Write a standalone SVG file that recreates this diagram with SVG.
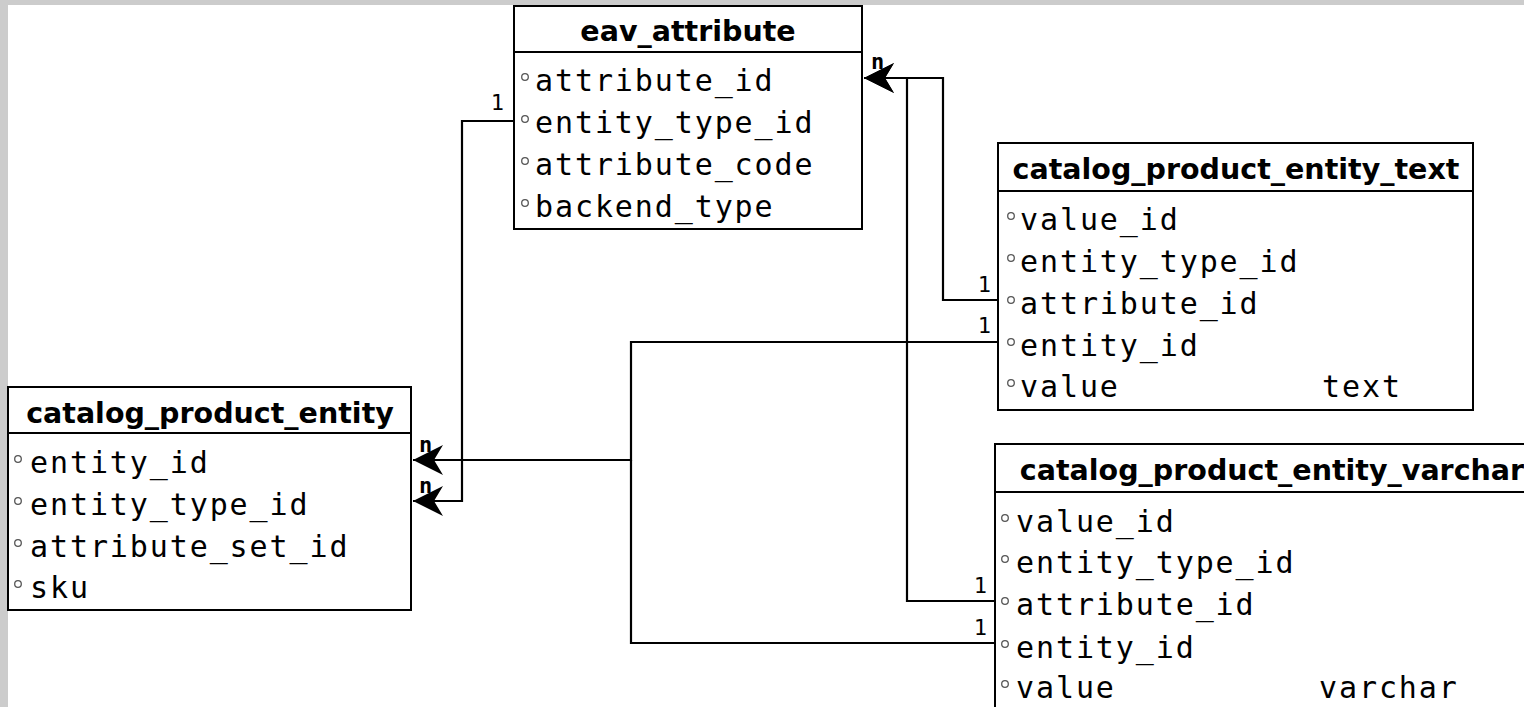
<svg xmlns="http://www.w3.org/2000/svg" width="1524" height="707" viewBox="0 0 1524 707">
<style>
.box{fill:#fff;stroke:#000;stroke-width:2}
.sep{stroke:#000;stroke-width:2}
.hd{font-family:"DejaVu Sans",sans-serif;font-weight:bold;font-size:28.5px;fill:#000;text-anchor:middle}
.row{font-family:"DejaVu Sans Mono",monospace;font-size:30px;letter-spacing:1.9px;fill:#000}
.dot{fill:#fff;stroke:#555;stroke-width:1.3}
.lbl{font-family:"DejaVu Sans Mono",monospace;font-size:22px;fill:#000}
.lblb{font-family:"DejaVu Sans Mono",monospace;font-size:22px;font-weight:bold;fill:#000}
.con{fill:none;stroke:#000;stroke-width:2.2}
</style>
<defs>
<marker id="arr" markerUnits="userSpaceOnUse" viewBox="-34 -18 36 36" markerWidth="36" markerHeight="36" refX="0" refY="0" orient="auto" overflow="visible">
<path d="M0,0 L-30,-15 L-21,0 L-30,15 Z" fill="#000"/>
</marker>
</defs>
<rect x="0" y="0" width="1524" height="707" fill="#cccccc"/>
<rect x="8" y="5" width="1516" height="702" fill="#fff"/>

<g id="connectors">
<path class="con" d="M514,121 H462 V501 H413" marker-end="url(#arr)"/>
<path class="con" d="M998,342 H631 V460 H413" marker-end="url(#arr)"/>
<path class="con" d="M995,643 H631 V460"/>
<path class="con" d="M998,300 H943 V78 H864" marker-end="url(#arr)"/>
<path class="con" d="M995,601 H907 V78 H864" marker-end="url(#arr)"/>
</g>

<g id="labels">
<text class="lbl" x="504" y="110" text-anchor="end">1</text>
<text class="lbl" x="991" y="292" text-anchor="end">1</text>
<text class="lbl" x="991" y="333" text-anchor="end">1</text>
<text class="lbl" x="987" y="593" text-anchor="end">1</text>
<text class="lbl" x="987" y="635" text-anchor="end">1</text>
</g>

<g id="eav_attribute">
<rect class="box" x="514" y="6" width="348" height="223"/>
<line class="sep" x1="514" y1="52" x2="862" y2="52"/>
<text class="hd" x="688" y="41">eav_attribute</text>
<circle class="dot" cx="525" cy="77" r="3.3"/><text class="row" x="535" y="91">attribute_id</text>
<circle class="dot" cx="525" cy="119" r="3.3"/><text class="row" x="535" y="133">entity_type_id</text>
<circle class="dot" cx="525" cy="161" r="3.3"/><text class="row" x="535" y="175">attribute_code</text>
<circle class="dot" cx="525" cy="203" r="3.3"/><text class="row" x="535" y="217">backend_type</text>
</g>

<g id="catalog_product_entity_text">
<rect class="box" x="998" y="143" width="475" height="267"/>
<line class="sep" x1="998" y1="191" x2="1473" y2="191"/>
<text class="hd" x="1236" y="179">catalog_product_entity_text</text>
<circle class="dot" cx="1011" cy="216" r="3.3"/><text class="row" x="1020" y="230">value_id</text>
<circle class="dot" cx="1011" cy="258" r="3.3"/><text class="row" x="1020" y="272">entity_type_id</text>
<circle class="dot" cx="1011" cy="300" r="3.3"/><text class="row" x="1020" y="314">attribute_id</text>
<circle class="dot" cx="1011" cy="342" r="3.3"/><text class="row" x="1020" y="356">entity_id</text>
<circle class="dot" cx="1011" cy="383" r="3.3"/><text class="row" x="1020" y="397">value</text>
<text class="row" x="1322" y="397">text</text>
</g>

<g id="catalog_product_entity_varchar">
<rect class="box" x="995" y="444" width="550" height="290"/>
<line class="sep" x1="995" y1="492" x2="1545" y2="492"/>
<text class="hd" x="1272" y="480">catalog_product_entity_varchar</text>
<circle class="dot" cx="1005" cy="518" r="3.3"/><text class="row" x="1016" y="532">value_id</text>
<circle class="dot" cx="1005" cy="559" r="3.3"/><text class="row" x="1016" y="573">entity_type_id</text>
<circle class="dot" cx="1005" cy="601" r="3.3"/><text class="row" x="1016" y="615">attribute_id</text>
<circle class="dot" cx="1005" cy="644" r="3.3"/><text class="row" x="1016" y="658">entity_id</text>
<circle class="dot" cx="1005" cy="684" r="3.3"/><text class="row" x="1016" y="698">value</text>
<text class="row" x="1319" y="698">varchar</text>
</g>

<g id="catalog_product_entity">
<rect class="box" x="8" y="387" width="403" height="223"/>
<line class="sep" x1="8" y1="433" x2="411" y2="433"/>
<text class="hd" x="210" y="423">catalog_product_entity</text>
<circle class="dot" cx="18" cy="459" r="3.3"/><text class="row" x="30" y="473">entity_id</text>
<circle class="dot" cx="18" cy="501" r="3.3"/><text class="row" x="30" y="515">entity_type_id</text>
<circle class="dot" cx="18" cy="543" r="3.3"/><text class="row" x="30" y="557">attribute_set_id</text>
<circle class="dot" cx="18" cy="584" r="3.3"/><text class="row" x="30" y="598">sku</text>
</g>

<g id="n-labels">
<text class="lblb" x="419" y="452">n</text>
<text class="lblb" x="419" y="493">n</text>
<text class="lblb" x="871" y="69">n</text>
</g>
</svg>
